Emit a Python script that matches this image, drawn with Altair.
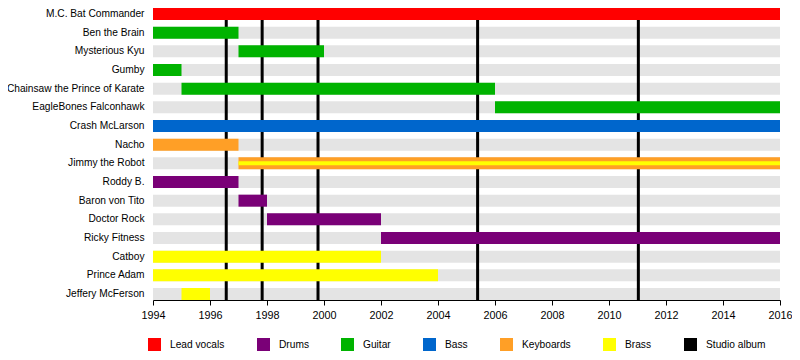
import altair as alt
import pandas as pd

members = [
    "M.C. Bat Commander", "Ben the Brain", "Mysterious Kyu", "Gumby",
    "Chainsaw the Prince of Karate", "EagleBones Falconhawk", "Crash McLarson",
    "Nacho", "Jimmy the Robot", "Roddy B.", "Baron von Tito", "Doctor Rock",
    "Ricky Fitness", "Catboy", "Prince Adam", "Jeffery McFerson",
]

bar_member = [
    "M.C. Bat Commander", "Ben the Brain", "Mysterious Kyu", "Gumby",
    "Chainsaw the Prince of Karate", "EagleBones Falconhawk", "Crash McLarson",
    "Nacho", "Jimmy the Robot", "Roddy B.", "Baron von Tito", "Doctor Rock",
    "Ricky Fitness", "Catboy", "Prince Adam", "Jeffery McFerson",
]
bar_start = [1994, 1994, 1997, 1994, 1995, 2006, 1994, 1994, 1997, 1994, 1997, 1998, 2002, 1994, 1994, 1995]
bar_end = [2016, 1997, 2000, 1995, 2006, 2016, 2016, 1997, 2016, 1997, 1998, 2002, 2016, 2002, 2004, 1996]
bar_role = [
    "Lead vocals", "Guitar", "Guitar", "Guitar", "Guitar", "Guitar", "Bass",
    "Keyboards", "Keyboards", "Drums", "Drums", "Drums", "Drums", "Brass",
    "Brass", "Brass",
]

stripe_member = ["Jimmy the Robot"]
stripe_start = [1997]
stripe_end = [2016]
stripe_role = ["Brass"]

album_dates = [1996.57, 1997.83, 1999.79, 2005.39, 2011.03]

roles = ["Lead vocals", "Drums", "Guitar", "Bass", "Keyboards", "Brass", "Studio album"]
role_colors = ["#ff0000", "#7a0077", "#00b300", "#0066cc", "#ff9f26", "#ffff00", "#000000"]

year_ticks = list(range(1994, 2017))

bars = pd.DataFrame({"member": bar_member, "start": bar_start, "end": bar_end, "role": bar_role})
stripes = pd.DataFrame({"member": stripe_member, "start": stripe_start, "end": stripe_end, "role": stripe_role})
bg = pd.DataFrame({"member": members, "start": [1994] * len(members), "end": [2016] * len(members)})
albums = pd.DataFrame({"date": album_dates})

FONT = "Liberation Sans"

xscale = alt.Scale(domain=[1994, 2016], nice=False, zero=False)
yscale = alt.Scale(domain=members, paddingInner=0.357, paddingOuter=0)

xaxis = alt.Axis(
    values=year_ticks, format="d", title=None, grid=False,
    labelExpr="datum.value % 2 == 0 ? datum.label : ''",
    tickSize=5, tickColor="black", domainColor="black", labelColor="black",
    labelFontSize=10.8, labelFont=FONT, labelPadding=4, labelFlush=False,
    labelOverlap=False,
)
yaxis = alt.Axis(
    title=None, ticks=False, domain=False, labelFontSize=10.2, labelFont=FONT,
    labelColor="black", labelPadding=9,
)

background = alt.Chart(bg).mark_bar(color="#e4e4e4").encode(
    y=alt.Y("member:N", scale=yscale, axis=yaxis, sort=members),
    x=alt.X("start:Q", scale=xscale, axis=xaxis),
    x2="end:Q",
)

rules = alt.Chart(albums).mark_rule(color="black", strokeWidth=3).encode(
    x=alt.X("date:Q", scale=xscale),
)

color = alt.Color(
    "role:N",
    scale=alt.Scale(domain=roles, range=role_colors),
    legend=alt.Legend(
        title=None, orient="none", direction="horizontal", legendX=-5, legendY=330,
        symbolType="square", symbolSize=169, symbolStrokeWidth=0,
        labelFontSize=10.2, labelFont=FONT, labelColor="black", labelOffset=9,
        columnPadding=32, padding=0, values=roles,
    ),
)

member_bars = alt.Chart(bars).mark_bar().encode(
    y=alt.Y("member:N", scale=yscale, sort=members),
    x=alt.X("start:Q", scale=xscale),
    x2="end:Q",
    color=color,
)

stripe_bars = alt.Chart(stripes).mark_bar(height=4).encode(
    y=alt.Y("member:N", scale=yscale, sort=members),
    x=alt.X("start:Q", scale=xscale),
    x2="end:Q",
    color=alt.Color("role:N", scale=alt.Scale(domain=roles, range=role_colors), legend=None),
)

chart = alt.layer(background, rules, member_bars, stripe_bars).properties(
    width=627, height=292,
    autosize=alt.AutoSizeParams(type="none"),
    padding={"left": 145, "top": 0, "right": 12, "bottom": 52},
).configure_view(stroke=None).configure_bar(cornerRadius=0)

chart.save("out.html", embed_options={"renderer": "svg", "actions": False})
